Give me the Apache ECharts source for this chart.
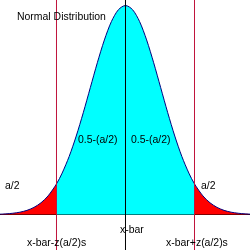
<!DOCTYPE html>
<html>
<head>
<meta charset="utf-8">
<script src="https://cdn.jsdelivr.net/npm/echarts@6/dist/echarts.min.js"></script>
<style>
  html, body { margin: 0; padding: 0; background: #fff; }
  #container { width: 250px; height: 250px; }
</style>
</head>
<body>
<div id="container"></div>
<script>
var dom = document.getElementById("container");
var myChart = echarts.init(dom);

// curve points (x in standard deviations, y = density)
var xVals = [-3.6, -3.4, -3.2, -3.0, -2.8, -2.6, -2.4, -2.2, -1.96, -1.8, -1.6, -1.4, -1.2, -1.0,
    -0.8, -0.6, -0.4, -0.2, 0, 0.2, 0.4, 0.6, 0.8, 1.0, 1.2, 1.4, 1.6, 1.8, 1.96,
    2.2, 2.4, 2.6, 2.8, 3.0, 3.2, 3.4, 3.6];
var yVals = [0.0006, 0.0012, 0.0024, 0.0044, 0.0079, 0.0136, 0.0224, 0.0355, 0.0584, 0.0790, 0.1109, 0.1497, 0.1942, 0.2420,
    0.2897, 0.3332, 0.3683, 0.3910, 0.3989, 0.3910, 0.3683, 0.3332, 0.2897, 0.2420, 0.1942, 0.1497, 0.1109, 0.0790, 0.0584,
    0.0355, 0.0224, 0.0136, 0.0079, 0.0044, 0.0024, 0.0012, 0.0006];
var zCrit = 1.96;
var xMin = -3.5649, xMax = 3.5365;
var yMin = -0.06776, yMax = 0.40943;

var curve = xVals.map(function (x, i) { return [x, yVals[i]]; });
var leftTail = curve.filter(function (p) { return p[0] <= -zCrit; });
var middle = curve.filter(function (p) { return p[0] >= -zCrit && p[0] <= zCrit; });
var rightTail = curve.filter(function (p) { return p[0] >= zCrit; });

function vline(x, color) {
    return {
        type: 'line',
        showSymbol: false,
        silent: true,
        z: 5,
        color: color,
        lineStyle: { color: color, width: 1 },
        data: [[x, yMin], [x, yMax]]
    };
}

var font = '11px "Liberation Sans", Arial, sans-serif';
function txt(x, y, s) {
    return {
        type: 'text', left: x, top: y, z: 100, silent: true, scaleX: 0.95,
        style: { text: s, fill: '#000', font: font }
    };
}

option = {
    animation: false,
    grid: { left: 0, right: 0, top: 0, bottom: 0 },
    xAxis: {
        type: 'value',
        min: xMin,
        max: xMax,
        axisLine: { onZero: true, lineStyle: { color: '#000', width: 1 } },
        axisTick: { show: false },
        axisLabel: { show: false },
        splitLine: { show: false }
    },
    yAxis: {
        type: 'value',
        min: yMin,
        max: yMax,
        axisLine: { show: false },
        axisTick: { show: false },
        axisLabel: { show: false },
        splitLine: { show: false }
    },
    series: [{
        type: 'line',
        smooth: 0.3,
        showSymbol: false,
        lineStyle: { width: 0 },
        areaStyle: { color: '#ff0000', opacity: 1 },
        data: leftTail
    }, {
        type: 'line',
        smooth: 0.3,
        showSymbol: false,
        lineStyle: { width: 0 },
        areaStyle: { color: '#00ffff', opacity: 1 },
        data: middle
    }, {
        type: 'line',
        smooth: 0.3,
        showSymbol: false,
        lineStyle: { width: 0 },
        areaStyle: { color: '#ff0000', opacity: 1 },
        data: rightTail
    }, {
        type: 'line',
        smooth: 0.3,
        showSymbol: false,
        z: 4,
        lineStyle: { color: '#000080', width: 1 },
        data: curve
    },
        vline(-zCrit, '#c0143c'),
        vline(zCrit, '#c0143c'),
        vline(0, '#000000')
    ],
    graphic: [
        txt(17, 11, 'Normal Distribution'),
        txt(78, 134, '0.5-(a/2)'),
        txt(131, 134, '0.5-(a/2)'),
        txt(5, 180, 'a/2'),
        txt(201, 180, 'a/2'),
        txt(120, 224, 'x-bar'),
        txt(27, 237, 'x-bar-z(a/2)s'),
        txt(166, 237, 'x-bar+z(a/2)s')
    ]
};
if (option && typeof option === "object") {
    myChart.setOption(option, true);
}
</script>
</body>
</html>
